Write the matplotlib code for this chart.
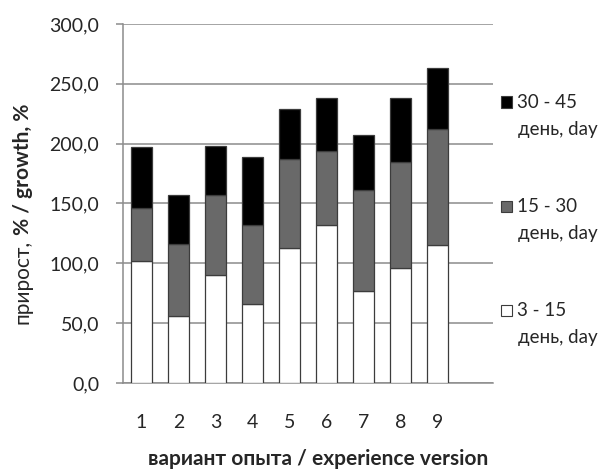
import matplotlib
matplotlib.use("Agg")
import matplotlib.pyplot as plt
from matplotlib.patches import Rectangle
from matplotlib.ticker import FuncFormatter

# Experiment versions and growth (%) per period, stacked bottom to top
versions = [1, 2, 3, 4, 5, 6, 7, 8, 9]
growth_3_15 = [102, 56, 90, 66, 113, 132, 77, 96, 115]
growth_15_30 = [44, 60, 67, 66, 74, 62, 84, 89, 97]
growth_30_45 = [51, 41, 41, 57, 42, 44, 46, 53, 51]
period_labels = ["3 - 15", "15 - 30", "30 - 45"]
period_unit = "день, day"
y_ticks = [0, 50, 100, 150, 200, 250, 300]

series = [growth_3_15, growth_15_30, growth_30_45]
fills = ["white", "#696969", "black"]
edge = "#3c3c3c"
grid_col = "#8c8c8c"
text_col = "#262626"
font = ["Lato", "DejaVu Sans"]
plt.rcParams["font.family"] = font

W, H = 609, 472
fig = plt.figure(figsize=(W / 100, H / 100), dpi=100)
fig.patch.set_facecolor("white")


def fx(px):
    return px / W


def fy(py):
    return 1 - py / H


ax = fig.add_axes([fx(123), fy(383), fx(493) - fx(123), fy(24) - fy(383)])

bottom = [0] * len(versions)
for vals, col in zip(series, fills):
    ax.bar(versions, vals, width=0.57, bottom=bottom, color=col,
           edgecolor=edge, linewidth=0.9, zorder=3)
    bottom = [b + v for b, v in zip(bottom, vals)]

# one empty slot on the right, as in the spreadsheet layout
ax.set_xlim(0.5, len(versions) + 1.5)
ax.set_ylim(0, 300)
ax.set_yticks(y_ticks)
ax.yaxis.set_major_formatter(FuncFormatter(lambda v, p: f"{v:.1f}".replace(".", ",")))
ax.set_xticks(versions)
ax.set_xticklabels([str(v) for v in versions])

ax.grid(axis="y", color=grid_col, linewidth=1.1, zorder=0)
ax.set_axisbelow(True)
for s in ["top", "right"]:
    ax.spines[s].set_visible(False)
for s in ["left", "bottom"]:
    ax.spines[s].set_color(grid_col)
    ax.spines[s].set_linewidth(1.1)

ax.tick_params(axis="y", length=5, width=1.1, color=grid_col, pad=12,
               labelsize=14, labelcolor=text_col)
ax.tick_params(axis="x", length=0, pad=22, labelsize=14, labelcolor=text_col)

# axis titles
fig.text(fx(318), fy(459), "вариант опыта / experience version",
         ha="center", va="center", fontsize=15, fontweight="bold", color=text_col)
t1 = fig.text(fx(23), fy(324), "прирост,", rotation=90, ha="center", va="bottom",
              fontsize=15, color=text_col)
ax.annotate(" % / growth, %", xy=(0.5, 1), xycoords=t1, rotation=90,
            ha="center", va="bottom", fontsize=15, fontweight="bold",
            color=text_col, annotation_clip=False)

# legend: highest period on top, unit on a second line
rows_y = [310, 206, 102]
for lab, col, ry in zip(period_labels, fills, rows_y):
    fig.patches.append(Rectangle((fx(501), fy(ry + 5.5)), fx(11), 11 / H,
                                 transform=fig.transFigure, facecolor=col,
                                 edgecolor="#3c3c3c", linewidth=0.8))
    fig.text(fx(517), fy(ry), lab, ha="left", va="center", fontsize=13.5, color=text_col)
    fig.text(fx(518), fy(ry + 27), period_unit, ha="left", va="center",
             fontsize=13.5, color=text_col)

fig.savefig("out.png", dpi=100)
